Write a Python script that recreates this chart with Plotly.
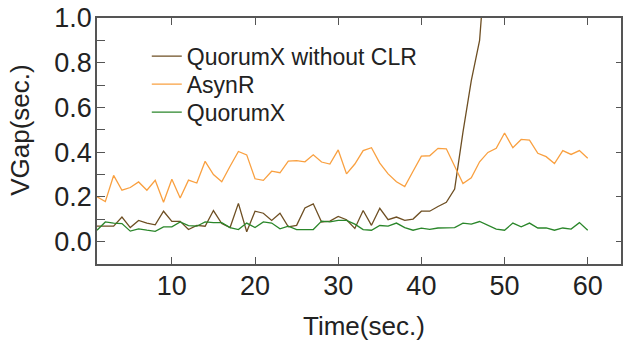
import plotly.graph_objects as go

time_s = list(range(1, 61))

asynr = [0.201, 0.179, 0.296, 0.230, 0.242, 0.267, 0.230, 0.274, 0.176, 0.279,
         0.195, 0.275, 0.262, 0.359, 0.300, 0.268, 0.337, 0.403, 0.388, 0.281,
         0.274, 0.315, 0.308, 0.360, 0.362, 0.357, 0.388, 0.356, 0.347, 0.410,
         0.303, 0.347, 0.407, 0.420, 0.351, 0.303, 0.268, 0.246, 0.315, 0.382,
         0.384, 0.417, 0.415, 0.337, 0.260, 0.285, 0.357, 0.399, 0.417, 0.486,
         0.420, 0.457, 0.454, 0.395, 0.380, 0.349, 0.407, 0.390, 0.407, 0.373]

time_noclr = list(range(1, 49))
quorumx_noclr = [0.069, 0.069, 0.069, 0.110, 0.063, 0.095, 0.083, 0.075, 0.136, 0.091,
                 0.091, 0.054, 0.073, 0.069, 0.139, 0.081, 0.063, 0.171, 0.044, 0.136,
                 0.127, 0.095, 0.127, 0.066, 0.073, 0.151, 0.169, 0.088, 0.092, 0.113,
                 0.098, 0.059, 0.139, 0.073, 0.149, 0.098, 0.110, 0.095, 0.101, 0.136,
                 0.136, 0.157, 0.176, 0.235, 0.490, 0.720, 0.900, 1.390]

quorumx = [0.051, 0.088, 0.083, 0.081, 0.047, 0.057, 0.051, 0.046, 0.066, 0.066,
           0.088, 0.072, 0.069, 0.088, 0.085, 0.085, 0.063, 0.054, 0.083, 0.063,
           0.088, 0.083, 0.057, 0.069, 0.054, 0.054, 0.054, 0.092, 0.088, 0.095,
           0.095, 0.078, 0.054, 0.051, 0.072, 0.069, 0.083, 0.063, 0.051, 0.060,
           0.055, 0.061, 0.063, 0.063, 0.083, 0.078, 0.090, 0.072, 0.056, 0.051,
           0.083, 0.066, 0.083, 0.061, 0.061, 0.051, 0.061, 0.056, 0.085, 0.051]

x_ticks = [10, 20, 30, 40, 50, 60]

FONT = "Liberation Sans, Arial, sans-serif"
AX = "#555555"
TXT = "#222222"

fig = go.Figure()
fig.add_trace(go.Scatter(x=time_noclr, y=quorumx_noclr, mode="lines",
                         name="QuorumX without CLR", legend="legend",
                         line=dict(color="#6e4f23", width=1.3)))
fig.add_trace(go.Scatter(x=time_s, y=asynr, mode="lines", name="AsynR",
                         legend="legend2",
                         line=dict(color="#f9a040", width=1.3)))
fig.add_trace(go.Scatter(x=time_s, y=quorumx, mode="lines", name="QuorumX",
                         legend="legend3",
                         line=dict(color="#2a862a", width=1.3)))
# right-side tick marks
fig.add_trace(go.Scatter(x=[None], y=[None], yaxis="y2", showlegend=False,
                         hoverinfo="skip"))

leg = dict(xanchor="left", yanchor="middle", bgcolor="rgba(0,0,0,0)",
           font=dict(size=23, color=TXT, family=FONT))

fig.update_layout(
    width=626, height=345,
    margin=dict(l=97, r=3, t=14, b=81),
    paper_bgcolor="white", plot_bgcolor="white",
    font=dict(family=FONT, size=27, color=TXT),
    showlegend=True,
    legend=dict(x=0.095, y=0.845, **leg),
    legend2=dict(x=0.095, y=0.731, **leg),
    legend3=dict(x=0.095, y=0.617, **leg),
    xaxis=dict(range=[1, 64], tickvals=x_ticks, ticks="inside", ticklen=7,
               tickcolor=AX, tickwidth=1.3, showline=True, linecolor=AX,
               linewidth=1.5, mirror="ticks", showgrid=False, zeroline=False,
               tickfont=dict(size=27), ticklabelstandoff=-3,
               ticklabeloverflow="allow"),
    yaxis=dict(range=[-0.1, 1.0], tick0=0, dtick=0.2, tickformat=".1f",
               ticks="inside", ticklen=8, tickcolor=AX, tickwidth=1.3,
               minor=dict(dtick=0.1, tick0=0, ticks="inside", ticklen=8,
                          tickcolor=AX, tickwidth=1.3, showgrid=False),
               showline=True, linecolor=AX, linewidth=1.5, mirror=True,
               showgrid=False, zeroline=False, tickfont=dict(size=27),
               ticklabelstandoff=-2, ticklabeloverflow="allow"),
    yaxis2=dict(range=[-0.1, 1.0], tick0=0, dtick=0.2, overlaying="y",
                side="right", ticks="inside", ticklen=5, tickcolor=AX,
                tickwidth=1.3, showticklabels=False, showgrid=False,
                zeroline=False, showline=False),
    annotations=[
        dict(text="VGap(sec.)", xref="paper", yref="y", x=-0.147, y=0.5,
             xanchor="center", yanchor="middle", textangle=-90,
             showarrow=False, font=dict(size=26, color=TXT, family=FONT)),
        dict(text="Time(sec.)", xref="paper", yref="paper", x=0.509, y=-0.25,
             xanchor="center", yanchor="middle", showarrow=False,
             font=dict(size=26, color=TXT, family=FONT)),
    ],
)

fig.write_html("out.html", config={"displayModeBar": False},
               post_script="document.body.style.margin='0';"
                           "document.body.style.padding='0';")
